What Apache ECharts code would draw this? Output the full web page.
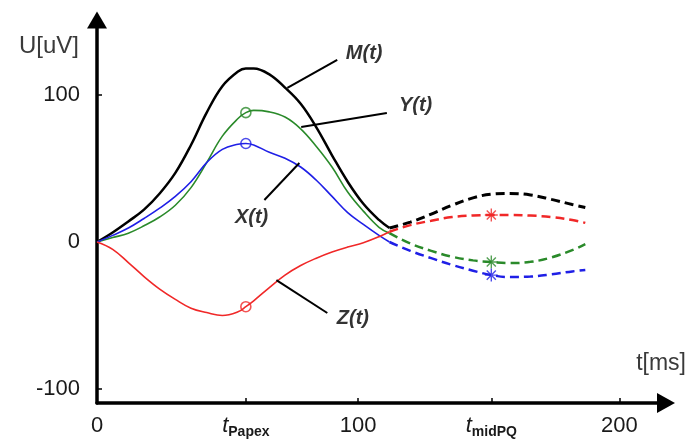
<!DOCTYPE html>
<html>
<head>
<meta charset="utf-8">
<script src="https://cdn.jsdelivr.net/npm/echarts@6/dist/echarts.min.js"></script>
<style>
html,body{margin:0;padding:0;background:#fff;}
#c{width:689px;height:441px;}
</style>
</head>
<body>
<div id="c"></div>
<script>
// ---- data ----
const tSolid = [0, 6, 12, 18, 24, 30, 36, 42, 48, 54, 57, 60, 66, 72, 78, 84, 90, 96, 102, 108, 112];
const mSolid = [0, 6.5, 14, 22, 33, 47, 66, 88, 106, 116, 118, 118, 114, 105, 94, 78, 59, 41, 26, 15, 9.5];
const ySolid = [0, 3, 6, 11, 17, 25, 37, 54, 72, 84, 88, 89.5, 88.5, 85, 77, 65, 51, 34, 21, 10, 6];
const xSolid = [0, 4.5, 9.5, 16, 23, 31, 41, 54, 63, 66.5, 67, 66, 61, 57, 51, 42, 31, 20, 12, 4.5, 0];
const zSolid = [0, -5, -14, -23.5, -32, -39, -45, -48, -50, -47.5, -44, -40, -31, -22.5, -16, -11, -6.8, -3.4, -0.5, 3.6, 7];

const tDash = [112, 120, 128, 136, 144, 151, 158, 166, 174, 182, 187];
const mDash = [9.5, 13.5, 19, 25, 30, 32.5, 33, 32, 29, 25.5, 23.5];
const yDash = [6, -1, -6, -10, -12.5, -13.6, -14.3, -13.5, -10.5, -5.5, -1.5];
const xDash = [0, -6, -11, -15.6, -19.5, -22.5, -23.8, -23.5, -22, -20, -19];
const zDash = [7, 11.5, 14.5, 17, 18, 18.4, 18.4, 18, 17, 15, 13];

const tPapex = 57;
const tMidPQ = 151;
const papexY = 88, papexX = 67, papexZ = -44;
const midY = -13.6, midX = -22.5, midZ = 18.4;

const xTickValues = [57, 100, 151, 200];
const xLabelValues = [0, 57, 100, 151, 200];
const yTickValues = [100, -100];
const yLabelValues = [100, 0, -100];

const annotNames = ['M(t)', 'Y(t)', 'X(t)', 'Z(t)'];
const annotFrom = [[72.9, 104.8], [78.2, 78.2], [77.5, 53.7], [68.7, -25.9]];
const annotTo = [[92, 123.8], [111, 87.8], [64.1, 28.6], [88.2, -48.3]];
const annotText = [[102.3, 127.9], [122, 93], [59.2, 17], [98, -51.7]];

// ---- chart ----
const C = {M: '#000000', Y: '#2a8a2a', X: '#1f1fe6', Z: '#f02828'};
const FONT = "'Liberation Sans', Arial, sans-serif";
const zip = (a, b) => a.map((v, i) => [v, b[i]]);

function solid(data, color, w) {
  return {type: 'line', data: data, smooth: 0.4, showSymbol: false, symbol: 'none', silent: true,
    lineStyle: {color: color, width: w}, z: 3};
}
function dashed(data, color, w) {
  return {type: 'line', data: data, smooth: 0.4, showSymbol: false, symbol: 'none', silent: true,
    lineStyle: {color: color, width: w, type: [9, 5]}, z: 3};
}
const asterisk = 'path://M0,-10L0,10M-10,0L10,0M-7,-7L7,7M-7,7L7,-7';

const series = [
  solid(zip(tSolid, mSolid), C.M, 2.5),
  solid(zip(tSolid, ySolid), C.Y, 1.6),
  solid(zip(tSolid, xSolid), C.X, 1.6),
  solid(zip(tSolid, zSolid), C.Z, 1.6),
  dashed(zip(tDash, mDash), C.M, 3),
  dashed(zip(tDash, yDash), C.Y, 2.5),
  dashed(zip(tDash, xDash), C.X, 2.5),
  dashed(zip(tDash, zDash), C.Z, 2.5),
  {type: 'scatter', silent: true, z: 4, symbol: 'circle', symbolSize: 10,
    data: [
      {value: [tPapex, papexY], itemStyle: {borderColor: C.Y}},
      {value: [tPapex, papexX], itemStyle: {borderColor: C.X}},
      {value: [tPapex, papexZ], itemStyle: {borderColor: C.Z}}
    ],
    itemStyle: {color: 'rgba(0,0,0,0)', borderWidth: 1.6}},
  {type: 'scatter', silent: true, z: 4, symbol: asterisk, symbolSize: 13,
    data: [
      {value: [tMidPQ, midZ], itemStyle: {borderColor: C.Z}},
      {value: [tMidPQ, midY], itemStyle: {borderColor: C.Y}},
      {value: [tMidPQ, midX], itemStyle: {borderColor: C.X}}
    ],
    itemStyle: {color: 'rgba(0,0,0,0)', borderWidth: 1.4}}
];

annotNames.forEach((n, i) => {
  series.push({type: 'line', silent: true, z: 5, symbol: 'none', showSymbol: false,
    data: [annotFrom[i], annotTo[i]], lineStyle: {color: '#000', width: 2}});
});
series.push({type: 'scatter', silent: true, z: 6, symbolSize: 0,
  data: annotNames.map((n, i) => ({name: n, value: annotText[i]})),
  label: {show: true, position: 'inside', formatter: p => p.name, color: '#000',
    fontFamily: FONT, fontSize: 20, fontStyle: 'italic', fontWeight: 'bold'}});

const option = {
  animation: false,
  backgroundColor: '#fff',
  grid: {left: 97, right: 21, top: 20, bottom: 38},
  xAxis: {
    type: 'value', min: 0, max: 217.9,
    splitLine: {show: false},
    axisLine: {onZero: false, symbol: ['none', 'triangle'], symbolSize: [20, 18],
      lineStyle: {color: '#000', width: 3.5}},
    axisTick: {show: true, inside: true, length: 5, customValues: xTickValues,
      lineStyle: {color: '#000', width: 1.5}},
    axisLabel: {customValues: xLabelValues, margin: 12, color: '#1a1a1a', fontFamily: FONT, fontSize: 22,
      formatter: v => v === tPapex ? '{t|t}{s|Papex}' : (v === tMidPQ ? '{t|t}{s|midPQ}' : String(v)),
      rich: {
        t: {fontStyle: 'italic', fontSize: 22, fontFamily: FONT, color: '#1a1a1a', verticalAlign: 'top', lineHeight: 24},
        s: {fontWeight: 'bold', fontSize: 14, fontFamily: FONT, color: '#1a1a1a', verticalAlign: 'bottom', lineHeight: 24, padding: [10, 0, 0, 0]}
      }},
    name: 't[ms]', nameLocation: 'end', nameGap: 0,
    nameTextStyle: {color: '#3a3a3a', fontFamily: FONT, fontSize: 23, align: 'right', verticalAlign: 'bottom', padding: [0, -20, 28, 0]}
  },
  yAxis: {
    type: 'value', min: -109.5, max: 151,
    splitLine: {show: false},
    axisLine: {onZero: false, symbol: ['none', 'triangle'], symbolSize: [20, 17],
      lineStyle: {color: '#000', width: 3.5}},
    axisTick: {show: true, inside: true, length: 5, customValues: yTickValues,
      lineStyle: {color: '#000', width: 1.5}},
    axisLabel: {customValues: yLabelValues, margin: 17, color: '#1a1a1a', fontFamily: FONT, fontSize: 22},
    name: 'U[uV]', nameLocation: 'end', nameGap: 0,
    nameTextStyle: {color: '#3a3a3a', fontFamily: FONT, fontSize: 24, align: 'right', verticalAlign: 'top', padding: [14, 18, 0, 0]}
  },
  series: series
};
const chart = echarts.init(document.getElementById('c'), null, {renderer: 'canvas'});
chart.setOption(option);
</script>
</body>
</html>
